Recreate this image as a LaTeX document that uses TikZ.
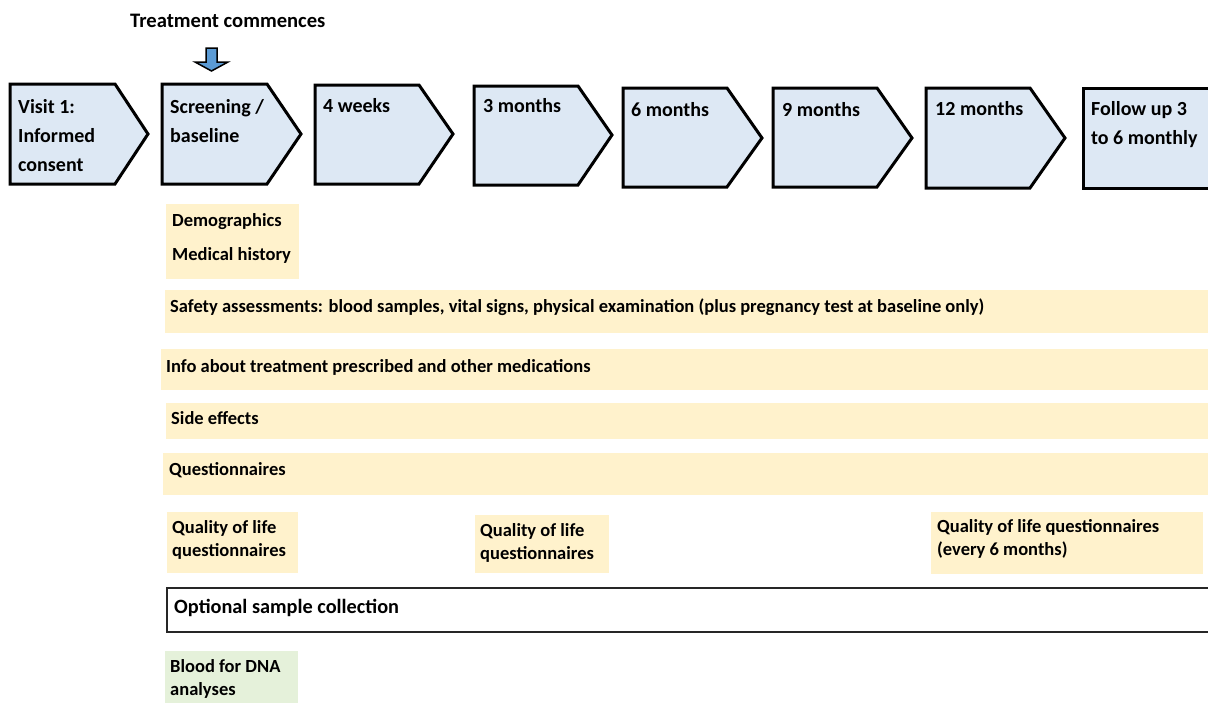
\documentclass[tikz,border=0pt]{standalone}
\usepackage{fontspec}
\setmainfont{Carlito}
\definecolor{stagefill}{HTML}{DDE8F4}
\definecolor{bandfill}{HTML}{FFF2CC}
\definecolor{greenfill}{HTML}{E5F1DA}
\definecolor{arrowblue}{HTML}{5B9BD5}
\newcommand\mylines[2]{\vtop{\hbox{#1}\hbox{#2}}}
\newcommand\mythree[3]{\vtop{\hbox{#1}\hbox{#2}\hbox{#3}}}
\begin{document}
\begin{tikzpicture}[x=1pt,y=-1pt,
  stage/.style={draw=black,line width=3pt,fill=stagefill,line join=miter},
  stagetext/.style={anchor=base west,inner sep=0pt,font=\fontsize{20}{29}\selectfont\bfseries},
  band/.style={fill=bandfill},
  greenband/.style={fill=greenfill},
  bandtext/.style={anchor=base west,inner sep=0pt,font=\fontsize{18.5}{23}\selectfont\bfseries},
  opttext/.style={anchor=base west,inner sep=0pt,font=\fontsize{20.3}{24}\selectfont\bfseries}]
\clip (0,0) rectangle (1208,702);
\fill[white] (0,0) rectangle (1208,702);
% title and arrow
\node[stagetext,font=\fontsize{20.6}{24}\selectfont\bfseries] (title) at (130,27) {Treatment commences};
\draw[fill=arrowblue,line width=1.5pt,line join=miter] (206,48) -- (217,48) -- (217,62) -- (228,62) -- (211.5,71) -- (195,62) -- (206,62) -- cycle;
% stages
\draw[stage] (10,84) -- (115,84) -- (148,134) -- (115,184) -- (10,184) -- cycle;
\draw[stage] (162,84) -- (267,84) -- (301,134) -- (267,184) -- (162,184) -- cycle;
\draw[stage] (315,85) -- (419,85) -- (453,134) -- (419,184) -- (315,184) -- cycle;
\draw[stage] (474,86) -- (578,86) -- (612,135) -- (578,185) -- (474,185) -- cycle;
\draw[stage] (623,88) -- (727,88) -- (762,138) -- (727,187) -- (623,187) -- cycle;
\draw[stage] (773,88) -- (877,88) -- (912,138) -- (877,187) -- (773,187) -- cycle;
\draw[stage] (926,88) -- (1030,88) -- (1065,138) -- (1030,188) -- (926,188) -- cycle;
\draw[stage] (1083,88) -- (1230,88) -- (1230,188) -- (1083,188) -- cycle;
\node[stagetext] (s1) at (18,113) {\mythree{Visit 1:}{Informed}{consent}};
\node[stagetext] (s2) at (170,113) {\mylines{Screening /}{baseline}};
\node[stagetext] (s3) at (323,112) {4 weeks};
\node[stagetext] (s4) at (483,112) {3 months};
\node[stagetext] (s5) at (631,116) {6 months};
\node[stagetext] (s6) at (782,116) {9 months};
\node[stagetext] (s7) at (935,115) {12 months};
\node[stagetext] (s8) at (1091,115) {\mylines{Follow up 3}{to 6 monthly}};
% bands
\fill[band] (166,204) rectangle (299,279);
\fill[band] (165,290) rectangle (1208,333);
\fill[band] (161,349) rectangle (1208,390);
\fill[band] (166,403) rectangle (1208,439);
\fill[band] (163,453) rectangle (1208,495);
\fill[band] (167,512) rectangle (298,573);
\fill[band] (475,515) rectangle (609,573);
\fill[band] (931,512) rectangle (1203,574);
\draw[line width=1.3pt,draw=black!85] (167,588) rectangle (1230,632);
\fill[greenband] (165,651) rectangle (298,710);
\node[bandtext] (demo) at (172,226) {Demographics};
\node[bandtext] (hist) at (172,260) {Medical history};
\node[bandtext] (safety) at (170,312) {Safety assessments: blood samples, vital signs, physical examination (plus pregnancy test at baseline only)};
\node[bandtext] (info) at (166,372) {Info about treatment prescribed and other medications};
\node[bandtext] (side) at (171,424) {Side effects};
\node[bandtext] (quest) at (169,475) {Questionnaires};
\node[bandtext] (qol1) at (172,533) {\mylines{Quality of life}{questionnaires}};
\node[bandtext] (qol2) at (480,536) {\mylines{Quality of life}{questionnaires}};
\node[bandtext] (qol3) at (937,532) {\mylines{Quality of life questionnaires}{(every 6 months)}};
\node[opttext] (opt) at (174,613) {Optional sample collection};
\node[bandtext] (blood) at (170,672) {\mylines{Blood for DNA}{analyses}};
\end{tikzpicture}
\end{document}
